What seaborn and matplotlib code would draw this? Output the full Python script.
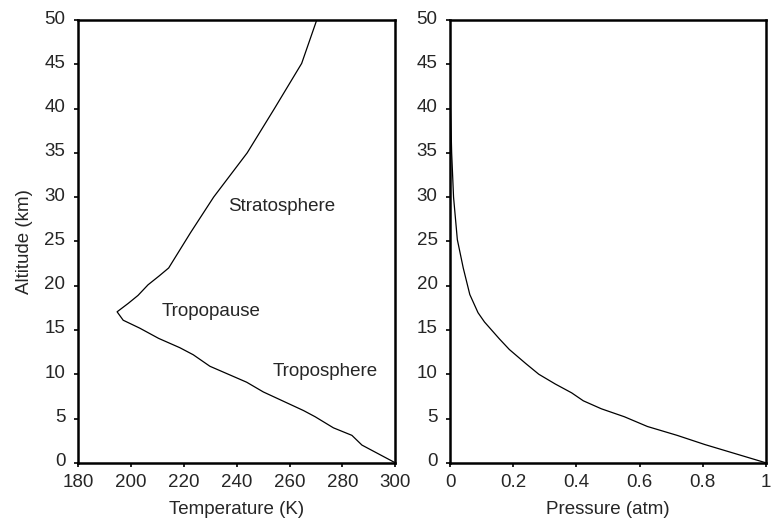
import matplotlib
matplotlib.use("Agg")
import matplotlib.pyplot as plt
from matplotlib.transforms import ScaledTranslation
import seaborn as sns
import pandas as pd

# Temperature profile (K) against altitude (km)
temp_alt = [0, 2.0, 3.1, 3.95, 5.2, 5.9, 8.0, 9.1, 10.9, 12.2, 13.0, 14.05, 15.2, 16.1,
            17.05, 18.0, 18.9, 20.1, 21.1, 22.0, 26.0, 30.0, 35.0, 40.0, 45.1, 50.0]
temperature = [300, 287.4, 283.6, 276.6, 269.7, 265.3, 250.1, 243.8, 229.9, 223.6, 218.5,
               210.5, 203.4, 197.1, 194.8, 199.0, 202.7, 206.5, 210.7, 214.3, 222.6,
               231.3, 244.0, 254.3, 264.6, 270.3]

# Pressure profile (atm) against altitude (km)
pres_alt = [0, 2.06, 3.1, 4.1, 5.2, 6.1, 7.0, 7.9, 8.9, 10.0, 11.2, 12.8, 14.0, 15.9,
            16.95, 19.0, 22.0, 25.2, 30.0, 35.0, 40.0, 45.0, 50.0]
pressure = [1.0, 0.807, 0.719, 0.625, 0.552, 0.479, 0.422, 0.385, 0.333, 0.281, 0.240,
            0.1875, 0.156, 0.109, 0.0885, 0.0625, 0.0417, 0.023, 0.011, 0.005, 0.0015,
            0.0006, 0.0002]

# Layer names and where they sit on the temperature panel
layer_names = ["Stratosphere", "Tropopause", "Troposphere"]
layer_x = [257, 230.5, 273.5]
layer_y = [28.9, 17.05, 10.3]

sns.set_style("ticks")
plt.rcParams["font.family"] = ["Liberation Sans", "DejaVu Sans"]
FS = 13.5

fig = plt.figure(figsize=(7.72, 5.2), dpi=100)
ax1 = fig.add_axes([0.101, 0.1100, 0.411, 0.8515])
ax2 = fig.add_axes([0.583, 0.1100, 0.409, 0.8515])

df_t = pd.DataFrame({"T": temperature, "z": temp_alt})
df_p = pd.DataFrame({"P": pressure, "z": pres_alt})

sns.lineplot(data=df_t, x="T", y="z", sort=False, estimator=None, color="black",
             linewidth=0.9, ax=ax1)
sns.lineplot(data=df_p, x="P", y="z", sort=False, estimator=None, color="black",
             linewidth=0.9, ax=ax2)

for name, x, y in zip(layer_names, layer_x, layer_y):
    ax1.text(x, y, name, ha="center", va="center", fontsize=FS)

ax1.set_xlim(180, 300)
ax1.set_xticks([180, 200, 220, 240, 260, 280, 300])
ax2.set_xlim(0, 1)
ax2.set_xticks([0, 0.2, 0.4, 0.6, 0.8, 1])
ax2.set_xticklabels(["0", "0.2", "0.4", "0.6", "0.8", "1"])

lift = ScaledTranslation(0, 3 / 100, fig.dpi_scale_trans)
for ax in (ax1, ax2):
    ax.set_ylim(0, 50)
    ax.set_yticks(range(0, 51, 5))
    for s in ax.spines.values():
        s.set_visible(True)
        s.set_linewidth(1.8)
        s.set_color("black")
    ax.tick_params(length=3, width=1.2, color="black", labelsize=FS)
    ax.tick_params(axis="x", pad=5)
    ax.tick_params(axis="y", pad=6)
    for lab in ax.get_yticklabels():
        lab.set_transform(lab.get_transform() + lift)

ax1.set_xlabel("Temperature (K)", fontsize=FS, labelpad=7)
ax1.set_ylabel("Altitude (km)", fontsize=FS, labelpad=8)
ax2.set_xlabel("Pressure (atm)", fontsize=FS, labelpad=7)
ax2.set_ylabel("")

fig.savefig("out.png", dpi=100)
